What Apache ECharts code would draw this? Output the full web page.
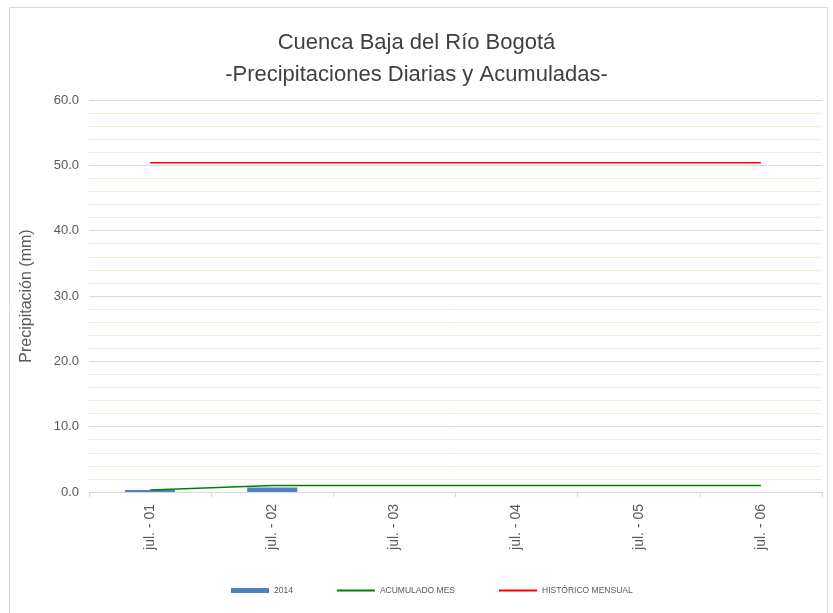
<!DOCTYPE html>
<html>
<head>
<meta charset="utf-8">
<script src="https://cdn.jsdelivr.net/npm/echarts@6/dist/echarts.min.js"></script>
<style>
  html, body { margin: 0; padding: 0; background: #fff; }
  #chart { width: 833px; height: 613px; }
</style>
</head>
<body>
<div id="chart"></div>
<script>
// categorías (días de julio)
var categories = ['jul. - 01', 'jul. - 02', 'jul. - 03', 'jul. - 04', 'jul. - 05', 'jul. - 06'];
// precipitación diaria 2014
var daily2014 = [0.3, 0.7, 0, 0, 0, 0];
// acumulado del mes
var acumuladoMes = [0.3, 1.0, 1.0, 1.0, 1.0, 1.0];
// histórico mensual
var historicoMensual = [50.4, 50.4, 50.4, 50.4, 50.4, 50.4];

// icono de línea para la leyenda
var lineIcon = 'path://M0,0 L40,0 L40,2 L0,2 Z';

var chart = echarts.init(document.getElementById('chart'));

var option = {
  animation: false,
  textStyle: { fontFamily: 'Liberation Sans' },
  graphic: [
    {
      type: 'rect',
      shape: { x: 9.5, y: 7.5, width: 818, height: 620 },
      style: { fill: 'none', stroke: '#d9d9d9', lineWidth: 1 },
      silent: true
    }
  ],
  title: {
    text: 'Cuenca Baja del Río Bogotá\n-Precipitaciones Diarias y Acumuladas-',
    left: 'center',
    top: 22,
    textStyle: {
      fontSize: 22,
      fontWeight: 'normal',
      color: '#404040',
      lineHeight: 32,
      fontFamily: 'Liberation Sans'
    }
  },
  legend: {
    left: 226,
    top: 581,
    itemWidth: 38,
    itemHeight: 5,
    itemGap: 44,
    symbolKeepAspect: true,
    textStyle: { fontSize: 8.5, color: '#595959' },
    data: [
      { name: '2014', icon: 'rect' },
      { name: 'ACUMULADO MES', icon: lineIcon },
      { name: 'HISTÓRICO MENSUAL', icon: lineIcon }
    ]
  },
  grid: {
    left: 89,
    right: 11,
    top: 100,
    bottom: 121
  },
  xAxis: {
    type: 'category',
    data: categories,
    boundaryGap: true,
    axisLine: { lineStyle: { color: '#d9d9d9' } },
    axisTick: { show: true, length: 5, lineStyle: { color: '#d9d9d9' } },
    axisLabel: {
      rotate: 90,
      fontSize: 14,
      color: '#595959',
      margin: 12,
      interval: 0
    }
  },
  yAxis: {
    type: 'value',
    min: 0,
    max: 60,
    interval: 10,
    name: 'Precipitación (mm)',
    nameLocation: 'middle',
    nameGap: 54,
    nameTextStyle: { fontSize: 16, color: '#595959' },
    axisLine: { show: false },
    axisTick: { show: false },
    axisLabel: {
      fontSize: 13,
      color: '#595959',
      margin: 10,
      formatter: function (v) { return v.toFixed(1); }
    },
    splitLine: { lineStyle: { color: '#d9d9d9' } },
    minorTick: { show: false, splitNumber: 5 },
    minorSplitLine: { show: true, lineStyle: { color: '#efeadb' } }
  },
  series: [
    {
      name: '2014',
      type: 'bar',
      data: daily2014,
      barWidth: '41%',
      itemStyle: { color: '#4f81bd' }
    },
    {
      name: 'ACUMULADO MES',
      type: 'line',
      data: acumuladoMes,
      symbol: 'none',
      lineStyle: { color: '#008000', width: 1.5 },
      itemStyle: { color: '#008000' }
    },
    {
      name: 'HISTÓRICO MENSUAL',
      type: 'line',
      data: historicoMensual,
      symbol: 'none',
      lineStyle: { color: '#ff0000', width: 1.5 },
      itemStyle: { color: '#ff0000' }
    }
  ]
};

chart.setOption(option);
</script>
</body>
</html>
